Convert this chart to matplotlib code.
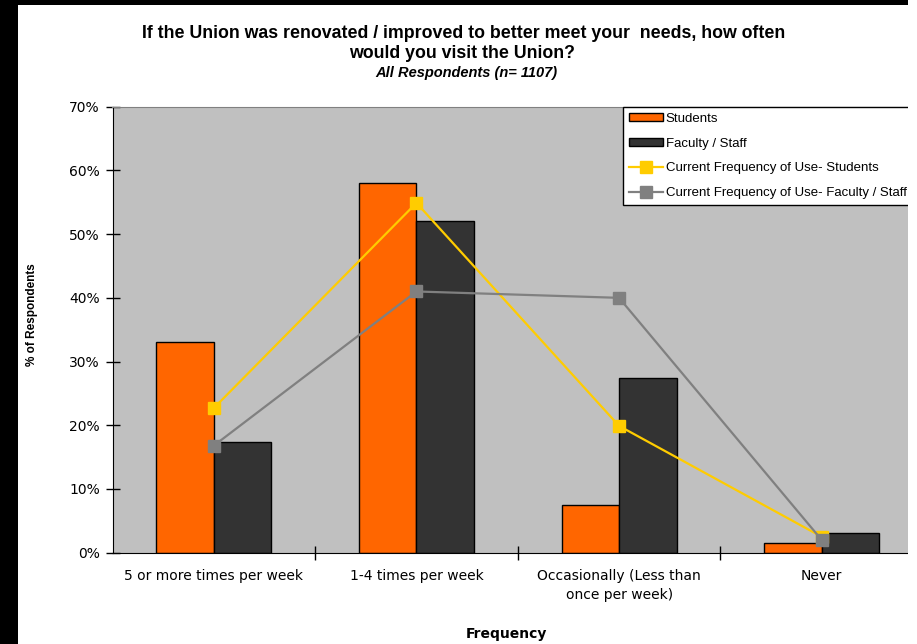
import numpy as np
import matplotlib
matplotlib.use("Agg")
import matplotlib.pyplot as plt
from matplotlib.patches import Patch, Rectangle
from matplotlib.lines import Line2D
from matplotlib.ticker import FuncFormatter

plt.rcParams['font.family'] = ['Liberation Sans', 'DejaVu Sans']

# data
categories = ['5 or more times per week', '1-4 times per week',
              'Occasionally (Less than\nonce per week)', 'Never']
students = [33.0, 58.0, 7.5, 1.5]
faculty = [17.3, 52.0, 27.4, 3.1]
cur_students = [22.7, 54.9, 19.9, 2.5]
cur_faculty = [16.8, 41.0, 40.0, 2.0]
yticks = [0, 10, 20, 30, 40, 50, 60, 70]

W, H = 917, 644
fig = plt.figure(figsize=(W / 100, H / 100), dpi=100)
fig.patch.set_facecolor('white')

# black frame strips (top / left) as in the screenshot
fig.patches.append(Rectangle((0, 1 - 5 / H), 1, 5 / H, transform=fig.transFigure,
                             facecolor='black', edgecolor='none', zorder=0))
fig.patches.append(Rectangle((0, 0), 18 / W, 1, transform=fig.transFigure,
                             facecolor='black', edgecolor='none', zorder=0))

left, right = 112.5, 923
top, bottom = 106.7, 552.7
ax = fig.add_axes([left / W, (H - bottom) / H, (right - left) / W, (bottom - top) / H])
ax.set_facecolor('#C0C0C0')

x = np.arange(len(categories))
w = 0.284
ax.bar(x - w / 2, students, w, color='#FF6600', edgecolor='black', linewidth=1, zorder=2)
ax.bar(x + w / 2, faculty, w, color='#333333', edgecolor='black', linewidth=1, zorder=2)
ax.plot(x, cur_students, color='#FFCC00', lw=1.6, marker='s', ms=8, mec='#FFCC00', zorder=3)
ax.plot(x, cur_faculty, color='#808080', lw=1.6, marker='s', ms=8, mec='#808080', zorder=3)

ax.set_xlim(-0.5, 3.5)
ax.set_ylim(0, 70)
ax.set_yticks(yticks)
ax.yaxis.set_major_formatter(FuncFormatter(lambda v, p: f'{v:.0f}%'))
ax.set_xticks(x + 0.5)
ax.set_xticklabels([])
ax.set_xticks(x, minor=True)
ax.set_xticklabels(categories, minor=True, fontsize=10, family='DejaVu Sans', linespacing=1.45)
ax.tick_params(axis='x', which='minor', length=0, pad=12)
ax.tick_params(axis='x', which='major', direction='inout', length=10, width=1)
ax.tick_params(axis='y', direction='inout', length=10, width=1, pad=4)
for lab in ax.get_yticklabels():
    lab.set_family('DejaVu Sans')
    lab.set_fontsize(10)

for s in ['top', 'right']:
    ax.spines[s].set_color('#808080')
for s in ['left', 'bottom']:
    ax.spines[s].set_color('black')

fig.text(32 / W, 1 - 315 / H, '% of Respondents', rotation=90, ha='center', va='center',
         fontsize=8.5, fontweight='bold')
fig.text(506 / W, 1 - 634 / H, 'Frequency', ha='center', va='center',
         fontsize=10, fontweight='bold', family='DejaVu Sans')

fig.text(464 / W, 1 - 34 / H, 'If the Union was renovated / improved to better meet your  needs, how often',
         ha='center', va='center', fontsize=12.8, fontweight='bold')
fig.text(462 / W, 1 - 54 / H, 'would you visit the Union?',
         ha='center', va='center', fontsize=12.8, fontweight='bold')
fig.text(466 / W, 1 - 73 / H, 'All Respondents (n= 1107)',
         ha='center', va='center', fontsize=10.5, fontweight='bold', style='italic')

handles = [
    Patch(facecolor='#FF6600', edgecolor='black', label='Students'),
    Patch(facecolor='#333333', edgecolor='black', label='Faculty / Staff'),
    Line2D([], [], color='#FFCC00', lw=1.6, marker='s', ms=8, label='Current Frequency of Use- Students'),
    Line2D([], [], color='#808080', lw=1.6, marker='s', ms=8, label='Current Frequency of Use- Faculty / Staff'),
]
leg = fig.legend(handles=handles, loc='upper left', bbox_to_anchor=(623 / W, 1 - 106.7 / H),
                 fontsize=9.5, frameon=True, fancybox=False, borderpad=0.45,
                 labelspacing=0.98, handlelength=2.6, handletextpad=0.2, handleheight=0.6,
                 borderaxespad=0, edgecolor='black', framealpha=1)
leg.get_frame().set_linewidth(1)

# right edge of the screenshot is cut off
fig.patches.append(Rectangle((908 / W, 0), 9 / W, 1, transform=fig.transFigure,
                             facecolor='white', edgecolor='none', zorder=10))

fig.savefig('out.png', dpi=100)
